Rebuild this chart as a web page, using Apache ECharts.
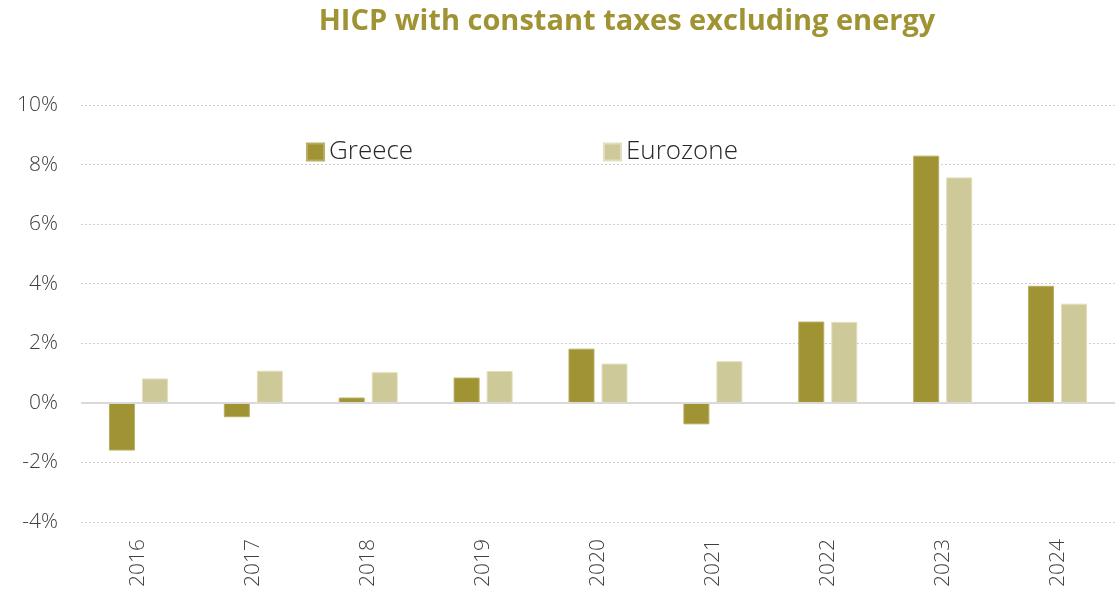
<!DOCTYPE html>
<html>
<head>
<meta charset="utf-8">
<style>
  html, body { margin: 0; padding: 0; background: #ffffff; }
  #chart { width: 1115px; height: 590px; }
</style>
<script src="https://cdn.jsdelivr.net/npm/echarts@6/dist/echarts.min.js"></script>
</head>
<body>
<div id="chart"></div>
<script>
// Annual HICP change at constant taxes, excluding energy (%)
var years = ['2016', '2017', '2018', '2019', '2020', '2021', '2022', '2023', '2024'];
var greece = [-1.6, -0.48, 0.18, 0.85, 1.82, -0.72, 2.73, 8.3, 3.93];
var eurozone = [0.82, 1.08, 1.03, 1.07, 1.32, 1.4, 2.72, 7.57, 3.33];
var yTicks = { min: -4, max: 10, step: 2 };

var olive = '#a09333';
var sand = '#cec998';
var fontFamily = '"Open Sans", "Noto Sans", sans-serif';

var chart = echarts.init(document.getElementById('chart'), null, { renderer: 'canvas' });

var legendText = { fontSize: 26, color: '#262626', fontWeight: 300 };

chart.setOption({
  animation: false,
  textStyle: { fontFamily: fontFamily },
  title: {
    text: 'HICP with constant taxes excluding energy',
    left: 622,
    textAlign: 'center',
    top: 2,
    textStyle: { color: olive, fontSize: 29, fontWeight: 'bold', fontFamily: fontFamily }
  },
  legend: [
    {
      data: ['Greece'],
      left: 306, top: 139, padding: 0,
      itemWidth: 17, itemHeight: 17, itemGap: 7,
      textStyle: legendText,
      icon: 'rect'
    },
    {
      data: ['Eurozone'],
      left: 603, top: 139, padding: 0,
      itemWidth: 17, itemHeight: 17, itemGap: 7,
      textStyle: legendText,
      icon: 'rect'
    }
  ],
  grid: { left: 81, right: -12, top: 105, bottom: 65, containLabel: false },
  xAxis: {
    type: 'category',
    data: years,
    axisLine: { show: false },
    axisTick: { show: false },
    axisLabel: {
      rotate: 90, margin: 17, fontSize: 21, color: '#404040', fontWeight: 300,
      interval: 0
    },
    splitLine: { show: false }
  },
  yAxis: {
    type: 'value',
    min: yTicks.min, max: yTicks.max, interval: yTicks.step,
    axisLine: { show: false },
    axisTick: { show: false },
    axisLabel: {
      formatter: function (v) { return v + '%'; },
      fontSize: 21, color: '#404040', fontWeight: 300, margin: 23
    },
    splitLine: { lineStyle: { color: '#cfcfcf', type: [2, 2], width: 1 } }
  },
  series: [
    {
      name: 'Greece',
      type: 'bar',
      data: greece,
      barWidth: 26,
      barGap: '27%',
      itemStyle: { color: olive, borderColor: '#b8ad62', borderWidth: 1 },
      markLine: {
        silent: true, symbol: 'none', label: { show: false },
        lineStyle: { color: '#d9d9d9', type: 'solid', width: 2 },
        data: [{ yAxis: 0 }]
      }
    },
    {
      name: 'Eurozone',
      type: 'bar',
      data: eurozone,
      barWidth: 26,
      itemStyle: { color: sand, borderColor: '#e3dfbd', borderWidth: 1 }
    }
  ]
});
</script>
</body>
</html>
